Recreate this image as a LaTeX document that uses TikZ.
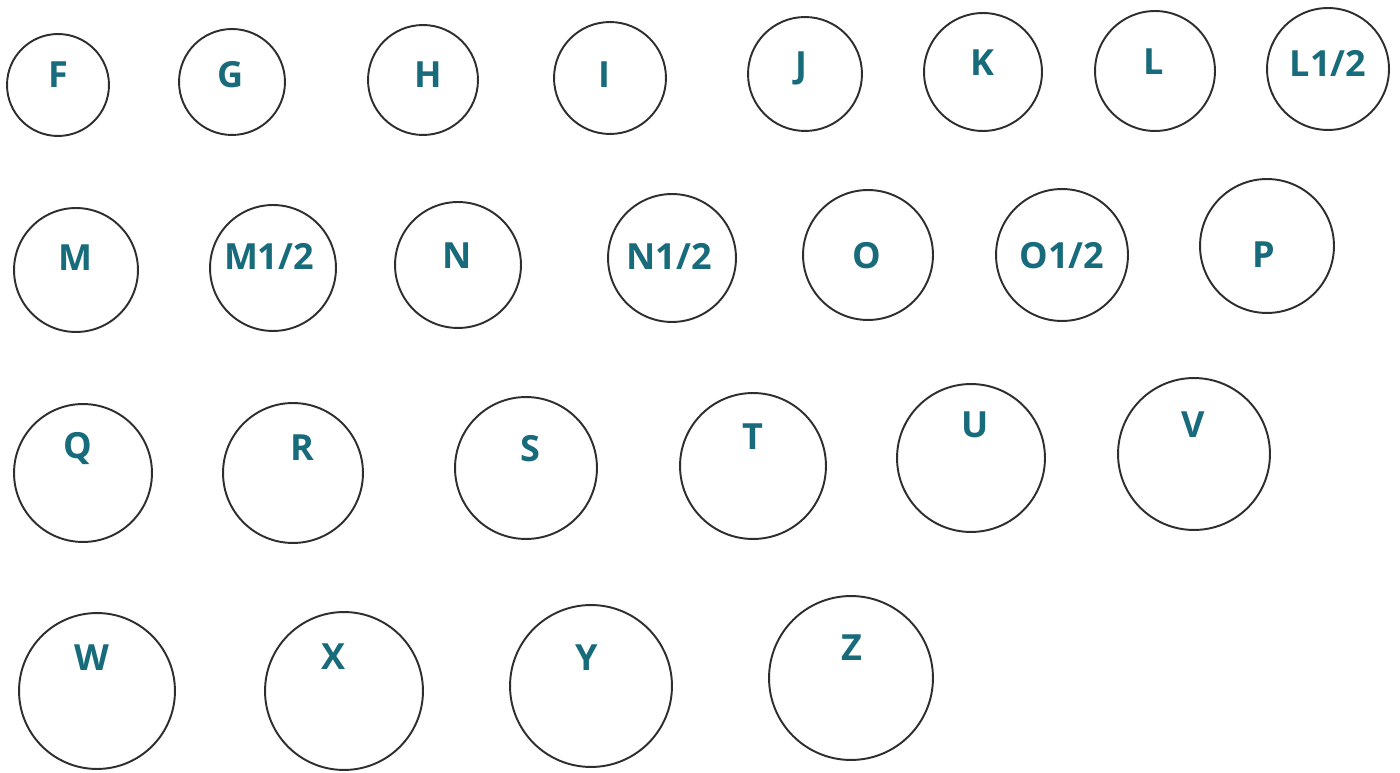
\documentclass[tikz,border=0pt]{standalone}
\usepackage{fontspec}
\setmainfont{Open Sans}
\usepackage{xcolor}
\usepackage{tikz}
\definecolor{RingGrey}{HTML}{2E2E2E}
\definecolor{SizeTeal}{HTML}{176B7A}

\begin{document}
\begin{tikzpicture}[
  x=0.02cm,
  y=-0.02cm,
  ring/.style={circle, draw=RingGrey, line width=1.1pt, inner sep=0pt, minimum size=0.04cm*#1},
  ringlab/.style={text=SizeTeal, inner sep=0pt, font=\bfseries\fontsize{20.5}{22}\selectfont}
]
\fill[white] (0,0) rectangle (1400,773);
\useasboundingbox (0,0) rectangle (1400,773);
\foreach \id/\txt/\x/\y/\r/\lx/\ly in {
  F/F/58/85/51/58/75,
  G/G/232/82/53/231/75,
  H/H/423/80/55/428/75,
  I/I/610/78/56/604/75,
  J/J/805/74/57/801/68,
  K/K/983/72/59/982/63,
  L/L/1155/71/60/1154/62,
  Lh/{L1/2}/1328/69/61/1328/63,
  M/M/76/270/62/75/258,
  Mh/{M1/2}/273/268/63/269/256,
  N/N/458/265/63/457/256,
  Nh/{N1/2}/672/258/64/669/256,
  O/O/868/255/65/867/256,
  Oh/{O1/2}/1062/255/66/1062/256,
  P/P/1267/246/67/1264/255,
  Q/Q/83/473/69/78/449,
  R/R/293/473/70/302/448,
  S/S/526/468/71/530/449,
  T/T/753/466/73/753/437,
  U/U/971/458/74/975/425,
  V/V/1194/454/76/1193/425,
  W/W/97/691/78/92/658,
  X/X/344/691/79/334/657,
  Y/Y/591/686/81/587/658,
  Z/Z/851/678/82/852/648
} {
  \node[ring=\r] (ring\id) at (\x,\y) {};
  \node[ringlab] (lab\id) at (\lx,\ly) {\txt};
}
\end{tikzpicture}
\end{document}
